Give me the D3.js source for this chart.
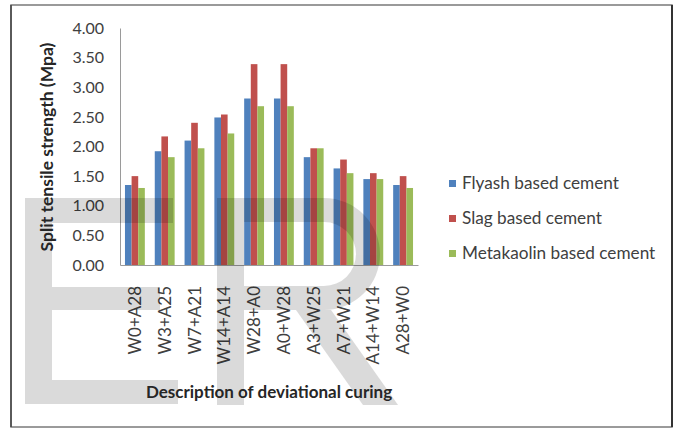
<!DOCTYPE html>
<html>
<head>
<meta charset="utf-8">
<script src="https://cdn.jsdelivr.net/npm/d3@7/dist/d3.min.js"></script>
<style>
  html, body { margin: 0; padding: 0; background: #fff; }
  svg { display: block; font-family: Lato, "Open Sans", sans-serif; }
</style>
</head>
<body>
<svg id="chart" width="680" height="429"></svg>
<script>
// Curing regimes (W = days in water, A = days in air)
const categories = ["W0+A28", "W3+A25", "W7+A21", "W14+A14", "W28+A0",
                    "A0+W28", "A3+W25", "A7+W21", "A14+W14", "A28+W0"];
const seriesNames = ["Flyash based cement", "Slag based cement", "Metakaolin based cement"];
const flyash     = [1.35, 1.92, 2.10, 2.49, 2.81, 2.81, 1.82, 1.63, 1.45, 1.35];
const slag       = [1.50, 2.17, 2.40, 2.54, 3.39, 3.39, 1.97, 1.78, 1.55, 1.50];
const metakaolin = [1.30, 1.82, 1.97, 2.22, 2.68, 2.68, 1.97, 1.55, 1.45, 1.30];
const seriesColors = ["#4F81BD", "#C0504D", "#9BBB59"];
const yTicks = [0, 0.5, 1, 1.5, 2, 2.5, 3, 3.5, 4];

const seriesValues = [flyash, slag, metakaolin];
const svg = d3.select("#chart");

// Outer chart frame
svg.append("rect")
  .attr("x", 11).attr("y", 5).attr("width", 661).attr("height", 422)
  .attr("fill", "#fff").attr("stroke", "#7a7a7a").attr("stroke-width", 1.5);
svg.append("line").attr("x1", 672).attr("x2", 672).attr("y1", 5).attr("y2", 427)
  .attr("stroke", "#333").attr("stroke-width", 2);
svg.append("line").attr("x1", 11).attr("x2", 11).attr("y1", 5).attr("y2", 427)
  .attr("stroke", "#444").attr("stroke-width", 1.5);

const plot = { left: 120, right: 418, top: 28, bottom: 265 };

const x = d3.scaleBand().domain(categories)
  .range([plot.left, plot.right]).paddingInner(1 / 3).paddingOuter(1 / 6);
const xs = d3.scaleBand().domain(d3.range(seriesNames.length))
  .range([0, x.bandwidth()]);
const y = d3.scaleLinear().domain([0, 4]).range([plot.bottom, plot.top]);

// Bars
const groups = svg.append("g").selectAll("g")
  .data(categories).join("g")
  .attr("transform", d => `translate(${x(d)},0)`);
groups.selectAll("rect")
  .data((d, i) => seriesValues.map((vals, s) => ({ s, v: vals[i] })))
  .join("rect")
  .attr("x", d => xs(d.s))
  .attr("width", xs.bandwidth())
  .attr("y", d => y(d.v))
  .attr("height", d => y(0) - y(d.v))
  .attr("fill", d => seriesColors[d.s]);

// Y axis
const yAxis = svg.append("g")
  .attr("transform", `translate(${plot.left},0)`)
  .call(d3.axisLeft(y).tickValues(yTicks).tickFormat(d3.format(".2f")).tickSize(0).tickPadding(16));
yAxis.select(".domain").attr("stroke", "#9a9a9a");
yAxis.selectAll("text")
  .attr("font-size", 16).attr("fill", "#404040")
  .style("font-family", "Lato, sans-serif");

// X axis
const xAxis = svg.append("g")
  .attr("transform", `translate(0,${plot.bottom})`)
  .call(d3.axisBottom(x).tickSize(0).tickPadding(0));
xAxis.select(".domain").attr("stroke", "#9a9a9a");
xAxis.selectAll("text")
  .attr("font-size", 17).attr("fill", "#404040")
  .attr("text-anchor", "end")
  .attr("dy", null).attr("y", 0)
  .attr("transform", "translate(6,21) rotate(-90)")
  .style("font-family", "Lato, sans-serif");

// Axis titles
svg.append("text")
  .attr("transform", "translate(53,147) rotate(-90)")
  .attr("text-anchor", "middle")
  .attr("font-size", 17.5).attr("font-weight", "bold").attr("fill", "#262626")
  .text("Split tensile strength (Mpa)");
svg.append("text")
  .attr("x", 269).attr("y", 398)
  .attr("text-anchor", "middle")
  .attr("font-size", 17).attr("font-weight", "bold").attr("fill", "#262626")
  .text("Description of deviational curing");

// Legend
const legend = svg.append("g").selectAll("g")
  .data(seriesNames).join("g")
  .attr("transform", (d, i) => `translate(449,${180 + i * 35})`);
legend.append("rect")
  .attr("width", 7).attr("height", 7)
  .attr("fill", (d, i) => seriesColors[i]);
legend.append("text")
  .attr("x", 13).attr("y", 8.5)
  .attr("font-size", 17.2).attr("fill", "#404040")
  .text(d => d);

// Faint publisher watermark letters over the lower part of the chart
const mark = svg.append("g").attr("opacity", 0.14).attr("fill", "#000");
mark.append("path")
  .attr("d", "M25,198H173V223H52V287H160V310H52V380H178V404H25Z");
mark.append("path")
  .attr("fill-rule", "evenodd")
  .attr("d", "M217,198H324A56,56 0 0 1 324,310H244V405H217Z M244,222H324A32,32 0 0 1 324,286H244Z");
mark.append("path")
  .attr("d", "M296,310H331L398,405H363Z");

// Keep text above the watermark
svg.selectAll("text").raise();
</script>
</body>
</html>
